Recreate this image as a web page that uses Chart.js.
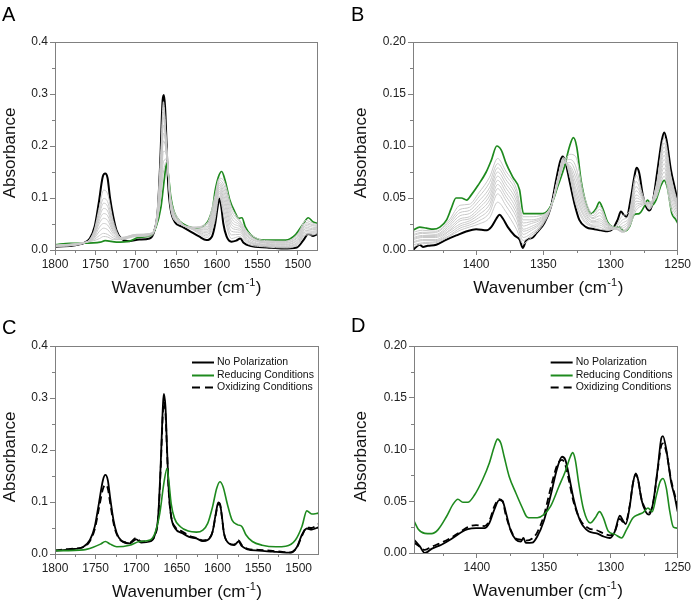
<!DOCTYPE html>
<html>
<head>
<meta charset="utf-8">
<script src="https://cdn.jsdelivr.net/npm/chart.js@4.4.1/dist/chart.umd.min.js"></script>
<style>
  body { margin: 0; background: #fff; }
  #wrap { position: relative; width: 693px; height: 604px; }
  canvas { position: absolute; }
</style>
</head>
<body>
<div id="wrap">
  <canvas id="panelA" width="346" height="302" style="left:0;top:0"></canvas>
  <canvas id="panelB" width="347" height="302" style="left:346px;top:0"></canvas>
  <canvas id="panelC" width="346" height="302" style="left:0;top:302px"></canvas>
  <canvas id="panelD" width="347" height="302" style="left:346px;top:302px"></canvas>
</div>
<script>
// ---- Panel A: 1800-1475 cm-1, potential series ----
var wnA_noPol = [1800,1765,1757,1751,1746,1741,1738,1735,1732,1728,1724,1718,1708,1696,1683,1677,1673,1670,1667,1665.5,1664,1662,1660,1657,1652,1643,1633,1622,1613,1606,1602,1599,1597,1594.5,1592,1588,1582,1576,1571,1567,1559,1538,1518,1501,1493,1487,1481,1475];
var absA_noPol = [0.006,0.013,0.022,0.045,0.090,0.141,0.147,0.138,0.100,0.064,0.038,0.022,0.017,0.020,0.022,0.038,0.077,0.167,0.288,0.298,0.276,0.199,0.122,0.077,0.054,0.045,0.036,0.026,0.019,0.026,0.051,0.083,0.099,0.083,0.051,0.026,0.016,0.018,0.022,0.014,0.008,0.005,0.003,0.005,0.019,0.031,0.027,0.031];
var wnA_red = [1800,1781,1765,1744,1738,1724,1708,1697,1683,1675,1669,1665,1662,1660,1657,1653,1645,1635,1624,1615,1610,1605,1602,1598,1594,1590,1584,1578,1573,1569,1565,1558,1548,1531,1515,1503,1493,1487,1481,1475];
var absA_red = [0.010,0.013,0.013,0.015,0.018,0.015,0.017,0.024,0.027,0.045,0.083,0.135,0.167,0.147,0.103,0.074,0.054,0.045,0.042,0.048,0.058,0.083,0.115,0.141,0.151,0.135,0.096,0.074,0.061,0.062,0.045,0.029,0.020,0.019,0.019,0.029,0.051,0.062,0.054,0.051];
var wnA_gray = [1800,1765,1752,1745,1740,1735,1728,1718,1700,1682,1674,1669,1666,1662,1657,1648,1630,1612,1603,1597,1591,1582,1572,1562,1540,1515,1500,1490,1482,1475];
var grayA = [
  [0.009,0.014,0.018,0.022,0.026,0.025,0.020,0.020,0.026,0.030,0.052,0.105,0.150,0.170,0.100,0.061,0.044,0.052,0.100,0.138,0.132,0.083,0.058,0.035,0.018,0.017,0.031,0.057,0.052,0.049],
  [0.009,0.014,0.020,0.028,0.032,0.030,0.023,0.021,0.027,0.031,0.054,0.115,0.170,0.175,0.097,0.060,0.044,0.049,0.095,0.135,0.124,0.076,0.055,0.032,0.016,0.016,0.029,0.053,0.049,0.047],
  [0.009,0.014,0.022,0.036,0.042,0.039,0.027,0.022,0.028,0.031,0.056,0.125,0.190,0.180,0.094,0.059,0.043,0.045,0.090,0.131,0.117,0.069,0.051,0.030,0.015,0.014,0.026,0.050,0.047,0.045],
  [0.008,0.014,0.024,0.044,0.051,0.048,0.031,0.022,0.029,0.032,0.058,0.135,0.210,0.183,0.091,0.058,0.043,0.042,0.085,0.128,0.110,0.062,0.048,0.027,0.014,0.013,0.024,0.047,0.044,0.043],
  [0.008,0.013,0.026,0.052,0.061,0.057,0.035,0.023,0.029,0.032,0.060,0.145,0.225,0.186,0.089,0.057,0.042,0.039,0.080,0.125,0.103,0.055,0.045,0.025,0.013,0.011,0.021,0.044,0.041,0.041],
  [0.008,0.013,0.028,0.058,0.070,0.066,0.038,0.023,0.030,0.032,0.062,0.155,0.240,0.190,0.087,0.056,0.041,0.036,0.075,0.121,0.096,0.049,0.041,0.022,0.011,0.010,0.019,0.041,0.039,0.040],
  [0.008,0.013,0.030,0.064,0.080,0.075,0.042,0.024,0.030,0.031,0.063,0.165,0.255,0.193,0.085,0.055,0.041,0.033,0.070,0.117,0.089,0.043,0.038,0.019,0.010,0.008,0.016,0.038,0.036,0.038],
  [0.007,0.013,0.032,0.070,0.090,0.084,0.046,0.024,0.029,0.030,0.065,0.175,0.265,0.195,0.083,0.054,0.040,0.030,0.065,0.113,0.081,0.036,0.034,0.017,0.009,0.007,0.014,0.035,0.034,0.036],
  [0.007,0.013,0.034,0.076,0.099,0.093,0.050,0.023,0.028,0.029,0.066,0.185,0.275,0.197,0.081,0.053,0.040,0.027,0.060,0.109,0.073,0.029,0.030,0.015,0.008,0.006,0.012,0.032,0.032,0.034],
  [0.007,0.013,0.036,0.084,0.115,0.108,0.056,0.023,0.026,0.027,0.068,0.195,0.285,0.198,0.079,0.052,0.039,0.024,0.053,0.104,0.064,0.022,0.026,0.012,0.006,0.004,0.010,0.029,0.029,0.032]
];

// ---- Panel B: 1447-1250 cm-1, potential series ----
var wnB_noPol = [1447,1442,1439.6,1436,1429.7,1422,1414.8,1407,1400,1392,1388.8,1385,1382.6,1380,1376.4,1371.4,1367.7,1365.3,1362.8,1357.8,1355.3,1349.2,1344.2,1340.5,1337.5,1335.6,1333.6,1330.6,1326.9,1323.2,1318.2,1312,1307.1,1302.2,1298.4,1294.7,1292.2,1290.2,1288,1284.7,1282.3,1280.6,1278.6,1276.1,1273.6,1271.1,1268.7,1265,1261.7,1260,1258.3,1255,1251.8,1250];
var absB_noPol = [0,0.005,0.003,0.004,0.005,0.010,0.014,0.018,0.020,0.019,0.022,0.030,0.034,0.030,0.022,0.014,0.010,0.002,0.009,0.012,0.016,0.026,0.042,0.067,0.085,0.090,0.085,0.067,0.045,0.029,0.022,0.020,0.019,0.018,0.020,0.029,0.037,0.034,0.032,0.051,0.070,0.079,0.074,0.054,0.042,0.038,0.045,0.077,0.106,0.113,0.106,0.077,0.058,0.047];
var wnB_red = [1447,1442,1437,1432,1427,1422,1418.5,1415,1411,1407,1403.6,1398.7,1392.5,1388.8,1384.6,1381.3,1377.6,1372.7,1367.7,1364.8,1360.3,1350.4,1344.2,1339.3,1334.3,1330.6,1327.6,1325.1,1321.9,1318.2,1314.5,1310.7,1308.3,1305.8,1302.2,1297.2,1293.5,1289.8,1286,1282.3,1278.6,1274.8,1272.4,1269.1,1266.1,1262.4,1260,1257.5,1254.3,1251.8,1250];
var absB_red = [0.019,0.022,0.021,0.020,0.022,0.029,0.040,0.050,0.050,0.048,0.053,0.062,0.075,0.086,0.100,0.096,0.083,0.070,0.058,0.035,0.035,0.035,0.043,0.061,0.080,0.099,0.108,0.099,0.067,0.045,0.035,0.040,0.046,0.040,0.027,0.022,0.022,0.018,0.022,0.034,0.035,0.042,0.048,0.043,0.048,0.062,0.067,0.059,0.035,0.030,0.026];
var wnB_gray = [1447,1440,1430,1420,1412,1405,1398,1390,1384,1378,1370,1365,1360,1350,1344,1339,1335,1330,1326,1320,1313,1308,1302,1296,1291,1286,1281,1276,1271,1266,1260,1255,1250];
var grayB = [
  [0.017,0.019,0.018,0.029,0.043,0.044,0.055,0.070,0.088,0.076,0.059,0.032,0.032,0.034,0.043,0.064,0.082,0.092,0.090,0.054,0.035,0.042,0.026,0.021,0.018,0.022,0.038,0.043,0.046,0.050,0.071,0.040,0.029],
  [0.015,0.017,0.017,0.027,0.039,0.041,0.051,0.065,0.083,0.072,0.055,0.029,0.029,0.033,0.043,0.065,0.083,0.087,0.081,0.050,0.033,0.039,0.025,0.021,0.017,0.023,0.041,0.044,0.046,0.052,0.075,0.044,0.031],
  [0.014,0.016,0.015,0.025,0.036,0.038,0.047,0.060,0.079,0.068,0.051,0.026,0.027,0.032,0.043,0.066,0.083,0.084,0.075,0.047,0.031,0.036,0.024,0.021,0.017,0.024,0.044,0.045,0.045,0.053,0.079,0.048,0.033],
  [0.012,0.014,0.014,0.023,0.033,0.035,0.043,0.056,0.075,0.064,0.047,0.023,0.025,0.031,0.043,0.067,0.084,0.081,0.070,0.044,0.030,0.033,0.023,0.020,0.018,0.025,0.047,0.046,0.045,0.055,0.083,0.052,0.035],
  [0.011,0.013,0.013,0.021,0.030,0.032,0.040,0.052,0.071,0.060,0.043,0.020,0.022,0.030,0.043,0.068,0.085,0.079,0.065,0.041,0.028,0.030,0.022,0.020,0.019,0.026,0.050,0.047,0.044,0.056,0.087,0.056,0.037],
  [0.010,0.012,0.012,0.019,0.028,0.030,0.037,0.048,0.067,0.056,0.039,0.018,0.020,0.029,0.043,0.068,0.085,0.077,0.060,0.038,0.027,0.028,0.021,0.020,0.021,0.028,0.053,0.048,0.043,0.058,0.091,0.059,0.039],
  [0.008,0.010,0.010,0.018,0.025,0.028,0.034,0.044,0.063,0.052,0.035,0.015,0.018,0.028,0.043,0.069,0.086,0.075,0.056,0.035,0.026,0.026,0.021,0.021,0.023,0.030,0.057,0.049,0.042,0.060,0.095,0.062,0.040],
  [0.007,0.009,0.009,0.016,0.023,0.026,0.031,0.040,0.059,0.048,0.031,0.012,0.015,0.027,0.043,0.070,0.087,0.073,0.052,0.033,0.024,0.024,0.020,0.021,0.026,0.032,0.061,0.050,0.041,0.061,0.099,0.065,0.042],
  [0.005,0.007,0.008,0.014,0.021,0.024,0.028,0.036,0.054,0.043,0.026,0.009,0.013,0.026,0.043,0.070,0.088,0.071,0.048,0.030,0.023,0.022,0.019,0.022,0.029,0.034,0.066,0.051,0.040,0.062,0.103,0.068,0.043],
  [0.003,0.006,0.007,0.013,0.019,0.022,0.025,0.031,0.046,0.037,0.020,0.006,0.011,0.025,0.042,0.071,0.089,0.069,0.045,0.028,0.022,0.020,0.019,0.023,0.033,0.037,0.072,0.053,0.039,0.058,0.108,0.071,0.045]
];

// ---- Panel C: 1800-1475 cm-1, three conditions ----
var wnC_noPol = [1800,1781,1765,1757,1751,1746,1741,1738,1735,1732,1728,1724,1718,1708,1700,1694,1683,1677,1673,1670,1667,1666,1664,1662,1660,1657,1652,1643,1635,1626,1618,1612,1606,1602,1599,1597,1594.5,1592,1586,1579.5,1574,1570,1563,1549,1532,1520,1510,1502,1496,1490,1484,1478,1475];
var absC_noPol = [0.0064,0.009,0.014,0.027,0.053,0.097,0.142,0.152,0.142,0.107,0.065,0.040,0.025,0.0205,0.028,0.022,0.024,0.037,0.072,0.168,0.290,0.308,0.283,0.200,0.123,0.072,0.049,0.040,0.033,0.030,0.025,0.027,0.043,0.078,0.099,0.097,0.072,0.040,0.0205,0.017,0.024,0.015,0.009,0.0064,0.0045,0.003,0.0026,0.014,0.037,0.049,0.047,0.050,0.052];
var absC_ox = [0.007,0.010,0.013,0.025,0.048,0.087,0.125,0.133,0.126,0.097,0.060,0.038,0.025,0.022,0.031,0.024,0.025,0.036,0.068,0.160,0.278,0.292,0.270,0.195,0.120,0.072,0.052,0.043,0.035,0.031,0.026,0.028,0.043,0.076,0.096,0.095,0.071,0.040,0.021,0.018,0.026,0.017,0.010,0.008,0.006,0.004,0.003,0.013,0.035,0.051,0.050,0.055,0.058];
var wnC_red = [1800,1765,1753,1744,1738,1732,1724,1708,1696,1683,1677,1671,1666,1662,1660,1657,1653,1646,1636,1626,1618,1612,1606,1601,1597,1593,1588,1582,1575,1570,1565,1557,1545,1528,1516,1504,1496,1490,1484,1478,1475];
var absC_red = [0.0064,0.008,0.013,0.019,0.024,0.019,0.014,0.017,0.024,0.027,0.040,0.078,0.136,0.165,0.142,0.097,0.069,0.053,0.044,0.042,0.046,0.059,0.091,0.126,0.139,0.129,0.097,0.065,0.056,0.053,0.037,0.024,0.017,0.014,0.015,0.027,0.053,0.083,0.077,0.078,0.079];

// ---- Panel D: 1447-1250 cm-1, three conditions ----
var wnD_noPol = [1447,1442.6,1438.9,1433.9,1426.5,1419.1,1411.7,1406.8,1400.6,1394.4,1390.7,1387,1383.3,1380.8,1378.3,1374.6,1370.9,1367.2,1365.2,1363.5,1358.6,1354.9,1350,1345,1340,1336.4,1333.9,1331.4,1327.7,1322.8,1316.6,1310.5,1305.5,1300.6,1296.9,1293.2,1290.7,1288.8,1285.8,1283.3,1281.3,1279.6,1277.1,1273.9,1271.4,1268.4,1264.7,1262.2,1261,1258.5,1254.8,1252.3,1250];
var absD_noPol = [0.013,0.0064,0.0,0.004,0.008,0.0135,0.020,0.023,0.024,0.024,0.029,0.042,0.051,0.050,0.039,0.021,0.013,0.011,0.0145,0.0097,0.010,0.016,0.031,0.055,0.082,0.093,0.090,0.076,0.052,0.031,0.021,0.019,0.016,0.0145,0.021,0.036,0.031,0.028,0.045,0.068,0.077,0.071,0.052,0.040,0.037,0.048,0.084,0.111,0.113,0.100,0.068,0.055,0.040];
var absD_ox = [0.010,0.006,0.003,0.006,0.010,0.015,0.021,0.025,0.027,0.026,0.031,0.045,0.052,0.050,0.036,0.022,0.014,0.013,0.012,0.012,0.014,0.020,0.036,0.062,0.085,0.090,0.085,0.071,0.049,0.032,0.024,0.022,0.019,0.017,0.021,0.033,0.030,0.030,0.046,0.068,0.076,0.071,0.053,0.042,0.039,0.048,0.082,0.104,0.106,0.098,0.070,0.057,0.044];
var wnD_red = [1447,1443.8,1438.9,1433.9,1429,1422.8,1417.9,1414.2,1410.5,1406.8,1401.8,1395.7,1390.7,1387,1384.6,1382.1,1379.6,1375.9,1370.9,1366,1362.7,1359.8,1354.9,1350,1345,1338.8,1333.9,1330.2,1328.4,1326.5,1324,1320.3,1315.4,1311.6,1308.4,1305.5,1301.8,1296.9,1291.9,1288.2,1283.3,1279.6,1275.9,1272.2,1269,1266,1263.1,1261,1258.5,1256.1,1253.2,1250];
var absD_red = [0.031,0.023,0.019,0.0187,0.0226,0.035,0.047,0.052,0.049,0.049,0.056,0.071,0.087,0.103,0.110,0.106,0.093,0.074,0.058,0.0435,0.035,0.034,0.034,0.037,0.045,0.064,0.079,0.093,0.097,0.090,0.068,0.042,0.029,0.034,0.040,0.034,0.021,0.018,0.0145,0.0226,0.034,0.037,0.039,0.0435,0.040,0.055,0.069,0.072,0.063,0.042,0.025,0.024];

// ---- axes ----
var xMinorWide = [1775,1725,1675,1625,1575,1525];
var xMinorNarrow = [1425,1375,1325,1275];
var yMinorWide = [0.05,0.15,0.25,0.35];
var yMinorNarrow = [0.025,0.075,0.125,0.175];
var legendLabels = ['No Polarization','Reducing Conditions','Oxidizing Conditions'];

var FONT = '"Liberation Sans", Arial, Helvetica, sans-serif';
var GREEN = '#1e8a1e';
var GRAY = '#c9c9c9';
var FRAME = '#808080';
Chart.defaults.font.family = FONT;

function pts(wn, abs) {
  return wn.map(function (w, i) { return {x: w, y: abs[i]}; });
}

function line(label, data, color, width, dash) {
  return {
    label: label, data: data, borderColor: color, borderWidth: width,
    borderDash: dash || [], pointRadius: 0, fill: false,
    cubicInterpolationMode: 'monotone', borderJoinStyle: 'round'
  };
}

// frame, minor ticks, axis titles, panel letter and legend
function decor(p) {
  return {
    id: 'decor',
    afterDraw: function (chart) {
      var ctx = chart.ctx, a = chart.chartArea, xs = chart.scales.x, ys = chart.scales.y;
      ctx.save();
      ctx.strokeStyle = FRAME;
      ctx.lineWidth = 1;
      ctx.strokeRect(Math.round(a.left) + 0.5, Math.round(a.top) + 0.5,
        Math.round(a.right - a.left) - 1, Math.round(a.bottom - a.top));
      ctx.beginPath();
      p.xMinor.forEach(function (v) {
        var px = Math.round(xs.getPixelForValue(v)) + 0.5;
        ctx.moveTo(px, a.bottom); ctx.lineTo(px, a.bottom + 3);
      });
      p.yMinor.forEach(function (v) {
        var py = Math.round(ys.getPixelForValue(v)) + 0.5;
        ctx.moveTo(a.left, py); ctx.lineTo(a.left - 3, py);
      });
      ctx.stroke();

      // x title with superscript
      ctx.fillStyle = '#111';
      ctx.textBaseline = 'alphabetic';
      ctx.textAlign = 'left';
      var big = '17px ' + FONT, small = '11px ' + FONT;
      ctx.font = big;
      var t1 = 'Wavenumber (cm', t3 = ')';
      var w1 = ctx.measureText(t1).width, w3 = ctx.measureText(t3).width;
      ctx.font = small;
      var w2 = ctx.measureText('-1').width;
      var cx = (a.left + a.right) / 2 + p.xTitleDx;
      var x0 = cx - (w1 + w2 + w3 + 1) / 2, by = a.bottom + 43;
      ctx.font = big; ctx.fillText(t1, x0, by);
      ctx.font = small; ctx.fillText('-1', x0 + w1 + 0.5, by - 7);
      ctx.font = big; ctx.fillText(t3, x0 + w1 + w2 + 1, by);

      // y title
      ctx.save();
      ctx.translate(a.left - p.yTitleOff, (a.top + a.bottom) / 2 + 7);
      ctx.rotate(-Math.PI / 2);
      ctx.textAlign = 'center';
      ctx.textBaseline = 'middle';
      ctx.font = big;
      ctx.fillText('Absorbance', 0, 0);
      ctx.restore();

      // panel letter
      ctx.font = '20px ' + FONT;
      ctx.fillStyle = '#000';
      ctx.fillText(p.letter, p.letterX, p.letterY);

      if (p.legend) {
        ctx.font = '10.5px ' + FONT;
        ctx.textBaseline = 'middle';
        legendLabels.forEach(function (lab, i) {
          var ds = chart.data.datasets.find(function (d) { return d.label === lab; });
          var yy = Math.round(a.top + 16 + i * 12.6) + 0.5;
          ctx.strokeStyle = ds.borderColor;
          ctx.lineWidth = 2;
          ctx.setLineDash(ds.borderDash.length ? [8, 5] : []);
          ctx.beginPath();
          ctx.moveTo(a.right - 127, yy); ctx.lineTo(a.right - 105, yy);
          ctx.stroke();
          ctx.setLineDash([]);
          ctx.fillStyle = '#111';
          ctx.fillText(lab, a.right - 102, yy);
        });
      }
      ctx.restore();
    }
  };
}

function makePanel(id, p, datasets) {
  new Chart(document.getElementById(id), {
    type: 'line',
    data: { datasets: datasets },
    options: {
      responsive: false,
      animation: false,
      devicePixelRatio: 1,
      events: [],
      layout: { padding: p.pad },
      plugins: { legend: { display: false }, tooltip: { enabled: false } },
      scales: {
        x: {
          type: 'linear', reverse: true, min: p.xMin, max: p.xMax,
          afterFit: function (s) { s.height = p.xH; },
          grid: { drawOnChartArea: false, drawTicks: true, tickLength: 5, color: FRAME },
          border: { display: false },
          ticks: { stepSize: 50, includeBounds: false, padding: 2, color: '#222',
                   font: { size: 12 }, maxRotation: 0, autoSkip: false,
                   callback: function (v) { return String(v); } }
        },
        y: {
          min: 0, max: p.yMax,
          afterFit: function (s) { s.width = p.yW; },
          grid: { drawOnChartArea: false, drawTicks: true, tickLength: 5, color: FRAME },
          border: { display: false },
          ticks: { stepSize: p.yStep, padding: 2, color: '#222', font: { size: 12 },
                   callback: function (v) { return v.toFixed(p.yDec); } }
        }
      }
    },
    plugins: [decor(p)]
  });
}

function grayLines(wn, curves) {
  return curves.map(function (c, i) { return line('Step ' + (i + 1), pts(wn, c), GRAY, 1); });
}

makePanel('panelA', {
  xMin: 1475, xMax: 1800, yMax: 0.4, yStep: 0.1, yDec: 1, xMinor: xMinorWide, yMinor: yMinorWide,
  pad: { left: 0, top: 42, right: 28, bottom: 0 }, yW: 55, xH: 52,
  yTitleOff: 45, xTitleDx: 0, letter: 'A', letterX: 2, letterY: 21, legend: false
}, grayLines(wnA_gray, grayA).concat([
  line('Reducing Conditions', pts(wnA_red, absA_red), GREEN, 1.7),
  line('No Polarization', pts(wnA_noPol, absA_noPol), '#000', 2)
]));

makePanel('panelB', {
  xMin: 1250, xMax: 1447, yMax: 0.2, yStep: 0.05, yDec: 2, xMinor: xMinorNarrow, yMinor: yMinorNarrow,
  pad: { left: 0, top: 42, right: 13, bottom: 0 }, yW: 67, xH: 52,
  yTitleOff: 52, xTitleDx: 3, letter: 'B', letterX: 5, letterY: 21, legend: false
}, grayLines(wnB_gray, grayB).concat([
  line('Reducing Conditions', pts(wnB_red, absB_red), GREEN, 1.7),
  line('No Polarization', pts(wnB_noPol, absB_noPol), '#000', 2)
]));

makePanel('panelC', {
  xMin: 1475, xMax: 1800, yMax: 0.4, yStep: 0.1, yDec: 1, xMinor: xMinorWide, yMinor: yMinorWide,
  pad: { left: 0, top: 44, right: 27, bottom: 0 }, yW: 55, xH: 50,
  yTitleOff: 45, xTitleDx: 0, letter: 'C', letterX: 2, letterY: 32, legend: true
}, [
  line('Reducing Conditions', pts(wnC_red, absC_red), GREEN, 1.6),
  line('Oxidizing Conditions', pts(wnC_noPol, absC_ox), '#000', 1.8, [7, 4]),
  line('No Polarization', pts(wnC_noPol, absC_noPol), '#000', 1.8)
]);

makePanel('panelD', {
  xMin: 1250, xMax: 1447, yMax: 0.2, yStep: 0.05, yDec: 2, xMinor: xMinorNarrow, yMinor: yMinorNarrow,
  pad: { left: 0, top: 44, right: 13, bottom: 0 }, yW: 68, xH: 51,
  yTitleOff: 53, xTitleDx: 2, letter: 'D', letterX: 5, letterY: 30, legend: true
}, [
  line('Reducing Conditions', pts(wnD_red, absD_red), GREEN, 1.6),
  line('Oxidizing Conditions', pts(wnD_noPol, absD_ox), '#000', 1.8, [7, 4]),
  line('No Polarization', pts(wnD_noPol, absD_noPol), '#000', 1.8)
]);
</script>
</body>
</html>
